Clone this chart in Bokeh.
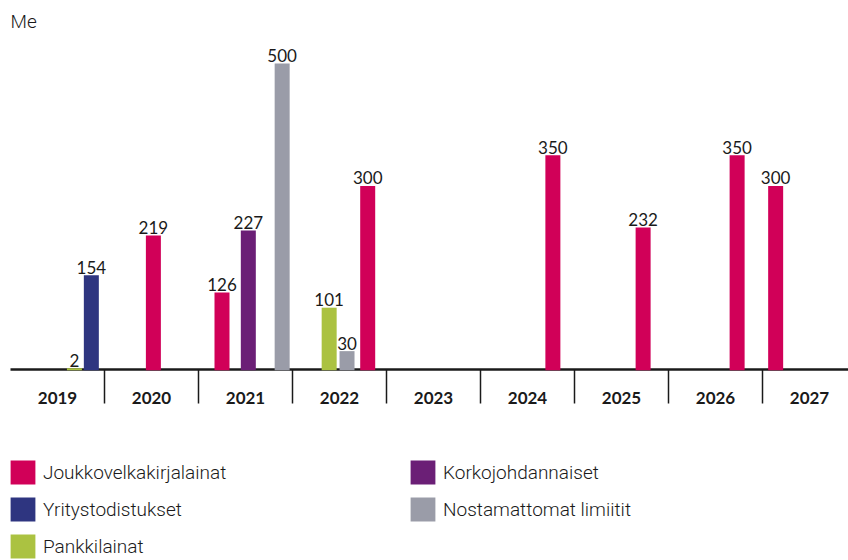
from bokeh.plotting import figure
from bokeh.models import Range1d, Legend, LegendItem, Label, ColumnDataSource
from bokeh.core.properties import value
from bokeh.embed import file_html
from bokeh.resources import INLINE

# ---- data ----
years = [2019, 2020, 2021, 2022, 2023, 2024, 2025, 2026, 2027]
year_labels = ["2019", "2020", "2021", "2022", "2023", "2024", "2025", "2026", "2027"]
unit_label = "Me"

series_names = ["Joukkovelkakirjalainat", "Yritystodistukset", "Pankkilainat",
                "Korkojohdannaiset", "Nostamattomat limiitit"]
series_colors = ["#D10058", "#2E3580", "#ABC241", "#6B1F76", "#9A9CA8"]

# maturity (decimal year) and amount (Me) for each series
joukko_maturity = [2020.52, 2021.25, 2022.80, 2024.77, 2025.73, 2026.73, 2027.14]
joukko_values = [219, 126, 300, 350, 232, 350, 300]
yritys_maturity = [2019.86]
yritys_values = [154]
pankki_maturity = [2019.68, 2022.39]
pankki_values = [2, 101]
korko_maturity = [2021.53]
korko_values = [227]
nosta_maturity = [2021.89, 2022.58]
nosta_values = [500, 30]

series_data = [
    (joukko_maturity, joukko_values),
    (yritys_maturity, yritys_values),
    (pankki_maturity, pankki_values),
    (korko_maturity, korko_values),
    (nosta_maturity, nosta_values),
]

# ---- geometry (pixels) ----
W, H = 848, 560
LEFT_PAD = 10          # first year boundary from the left edge
BASELINE = 369         # zero line from the top edge
PX_PER_YEAR = 94.0
PX_PER_ME = 0.612

x_start = years[0] - LEFT_PAD / PX_PER_YEAR
x_end = x_start + W / PX_PER_YEAR
y_end = BASELINE / PX_PER_ME
y_start = -(H - BASELINE) / PX_PER_ME

p = figure(width=W, height=H, output_backend="svg", toolbar_location=None,
           x_range=Range1d(x_start, x_end), y_range=Range1d(y_start, y_end),
           x_axis_location=None, y_axis_location=None,
           min_border=0)
p.outline_line_color = None
p.grid.visible = False
p.background_fill_color = "white"
p.border_fill_color = "white"

AX_COLOR = "#1a1a1a"
FONT = "Lato"
LIGHT_FONT = "Roboto Light, Roboto"

# ---- category axis: zero line, year dividers, year labels ----
p.segment(x0=[years[0]], y0=[0], x1=[x_end], y1=[0],
          line_color=AX_COLOR, line_width=2.5)
div_len = 34 / PX_PER_ME
p.segment(x0=years[1:], y0=[0] * (len(years) - 1), x1=years[1:],
          y1=[-div_len] * (len(years) - 1), line_color=AX_COLOR, line_width=1.5)
p.text(x=[y + 0.5 for y in years], y=[0] * len(years), text=year_labels,
       text_align="center", text_baseline="alphabetic", y_offset=28,
       text_font=value(FONT), text_font_style="bold", text_font_size="17px",
       text_color=AX_COLOR)

# ---- bars and value labels ----
BAR_W = 15 / PX_PER_YEAR
items = []
for name, color, (mat, vals) in zip(series_names, series_colors, series_data):
    src = ColumnDataSource(dict(x=mat, top=vals, lab=[str(v) for v in vals]))
    r = p.vbar(x="x", top="top", bottom=-1.2, width=BAR_W, source=src,
               fill_color=color, line_color=None)
    p.text(x="x", y="top", text="lab", source=src, text_align="center",
           text_baseline="alphabetic", y_offset=-8, text_font_size="17px",
           text_font=value(FONT), text_color=AX_COLOR)
    items.append(LegendItem(label=name, renderers=[r]))

# ---- legend ----
legend = Legend(items=items, orientation="vertical", nrows=3,
                location=(7, -1), glyph_width=31, glyph_height=30,
                label_width=357, label_height=30, label_standoff=5, spacing=7,
                padding=0, margin=0, border_line_color=None,
                background_fill_alpha=0,
                label_text_font=LIGHT_FONT,
                label_text_font_size="19px", label_text_color=AX_COLOR)
p.add_layout(legend, "center")

p.add_layout(Label(x=years[0], y=y_end, y_offset=-21, text=unit_label,
                   text_align="left", text_baseline="alphabetic",
                   text_font=LIGHT_FONT, text_font_size="19px",
                   text_color=AX_COLOR))

open("out.html", "w").write(file_html(p, INLINE))
